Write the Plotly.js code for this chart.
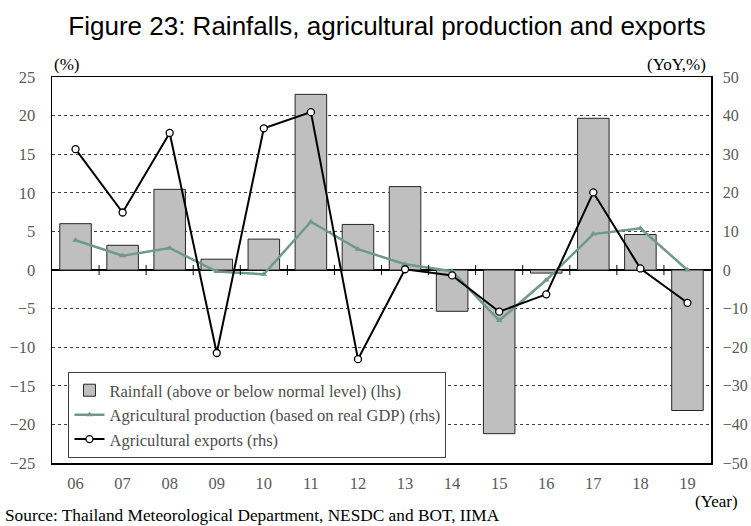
<!DOCTYPE html>
<html>
<head>
<meta charset="utf-8">
<script src="https://cdn.plot.ly/plotly-3.0.1.min.js"></script>
<style>
  html, body { margin: 0; padding: 0; background: #ffffff; }
  #chart { width: 751px; height: 526px; }
</style>
</head>
<body>
<div id="chart"></div>
<script>
// Years (2006-2019)
const years = ['06', '07', '08', '09', '10', '11', '12', '13', '14', '15', '16', '17', '18', '19'];

// Rainfall deviation from normal level, % (left axis)
const rainfall = [6.0, 3.2, 10.45, 1.4, 4.0, 22.75, 5.9, 10.8, -5.35, -21.2, -0.4, 19.65, 4.6, -18.2];

// Agricultural production, real GDP basis, YoY % (right axis)
const agriProduction = [7.7, 3.7, 5.7, -0.4, -1.1, 12.5, 5.4, 1.5, -0.3, -13.1, -2.6, 9.3, 10.8, 0.0];

// Agricultural exports, YoY % (right axis)
const agriExports = [31.3, 14.9, 35.5, -21.5, 36.7, 40.9, -23.1, 0.2, -1.4, -10.8, -6.3, 20.1, 0.4, -8.5];

const serif = 'Liberation Serif, Times New Roman, serif';
const sans = 'Liberation Sans, Arial, sans-serif';
const tickGrey = '#595959';

// Small cross ticks on the zero line, between neighbouring years
const zeroTicks = years.slice(1).map((_, i) => ({
  type: 'line',
  xref: 'x',
  yref: 'y',
  x0: i + 0.5,
  x1: i + 0.5,
  y0: -0.65,
  y1: 0.65,
  line: { color: '#000000', width: 1 },
  layer: 'above'
}));

const traces = [
  {
    type: 'bar',
    name: 'Rainfall (above or below normal level) (lhs)',
    x: years,
    y: rainfall,
    width: 0.67,
    marker: { color: '#bfbfbf', line: { color: '#262626', width: 1 } },
    yaxis: 'y'
  },
  {
    type: 'scatter',
    mode: 'lines+markers',
    name: 'Agricultural production (based on real GDP) (rhs)',
    x: years,
    y: agriProduction,
    line: { color: '#6f9a89', width: 2.5 },
    marker: { symbol: 'triangle-up', size: 6, color: '#6f9a89' },
    yaxis: 'y2'
  },
  {
    type: 'scatter',
    mode: 'lines+markers',
    name: 'Agricultural exports (rhs)',
    x: years,
    y: agriExports,
    line: { color: '#000000', width: 2 },
    marker: { symbol: 'circle', size: 7, color: '#ffffff', line: { color: '#000000', width: 1.3 } },
    yaxis: 'y2'
  }
];

const layout = {
  width: 751,
  height: 526,
  margin: { l: 52, r: 40, t: 77, b: 63 },
  paper_bgcolor: '#ffffff',
  plot_bgcolor: '#ffffff',
  showlegend: true,
  title: {
    text: 'Figure 23: Rainfalls, agricultural production and exports',
    font: { family: sans, size: 26, color: '#000000' },
    x: 387 / 751,
    xanchor: 'center',
    y: 1 - 26 / 526,
    yanchor: 'middle',
    xref: 'container',
    yref: 'container'
  },
  xaxis: {
    type: 'category',
    range: [-0.5, years.length - 0.5],
    showline: true,
    linecolor: '#000000',
    linewidth: 1.5,
    mirror: true,
    showgrid: false,
    zeroline: false,
    ticks: '',
    ticklabelstandoff: 5,
    tickfont: { family: serif, size: 16.5, color: tickGrey }
  },
  yaxis: {
    range: [-25, 25],
    tickmode: 'linear',
    tick0: -25,
    dtick: 5,
    showline: true,
    linecolor: '#000000',
    linewidth: 1.5,
    showgrid: true,
    gridcolor: '#404040',
    griddash: 'dot',
    gridwidth: 1,
    zeroline: true,
    zerolinecolor: '#000000',
    zerolinewidth: 1.5,
    ticks: '',
    ticklabelstandoff: 12,
    tickfont: { family: serif, size: 16.5, color: tickGrey }
  },
  yaxis2: {
    overlaying: 'y',
    side: 'right',
    range: [-50, 50],
    tickmode: 'linear',
    tick0: -50,
    dtick: 10,
    showline: true,
    linecolor: '#000000',
    linewidth: 1.5,
    showgrid: false,
    zeroline: false,
    ticks: '',
    ticklabelstandoff: 7,
    tickfont: { family: serif, size: 16, color: tickGrey }
  },
  legend: {
    x: 0.025,
    y: 0.2358,
    xanchor: 'left',
    yanchor: 'top',
    bgcolor: '#ffffff',
    bordercolor: '#404040',
    borderwidth: 1,
    font: { family: serif, size: 16.5, color: '#4d4d4d' },
    itemwidth: 30,
    tracegroupgap: 0,
    traceorder: 'normal'
  },
  shapes: zeroTicks,
  annotations: [
    {
      text: '(%)', xref: 'paper', yref: 'paper', x: 0, y: 1, xanchor: 'left', yanchor: 'bottom',
      yshift: 1, showarrow: false, font: { family: serif, size: 17, color: '#000000' }
    },
    {
      text: '(YoY,%)', xref: 'paper', yref: 'paper', x: 1, y: 1, xanchor: 'right', yanchor: 'bottom',
      xshift: -3, yshift: 1, showarrow: false, font: { family: serif, size: 17, color: '#000000' }
    },
    {
      text: '(Year)', xref: 'paper', yref: 'paper', x: 1.044, y: -0.1, xanchor: 'right', yanchor: 'middle',
      showarrow: false, font: { family: serif, size: 17, color: '#000000' }
    },
    {
      text: 'Source: Thailand Meteorological Department, NESDC and BOT, IIMA',
      xref: 'paper', yref: 'paper', x: -0.0744, y: -0.135, xanchor: 'left', yanchor: 'middle',
      showarrow: false, font: { family: serif, size: 17.3, color: '#000000' }
    }
  ]
};

Plotly.newPlot('chart', traces, layout, { displayModeBar: false, staticPlot: true });
</script>
</body>
</html>
